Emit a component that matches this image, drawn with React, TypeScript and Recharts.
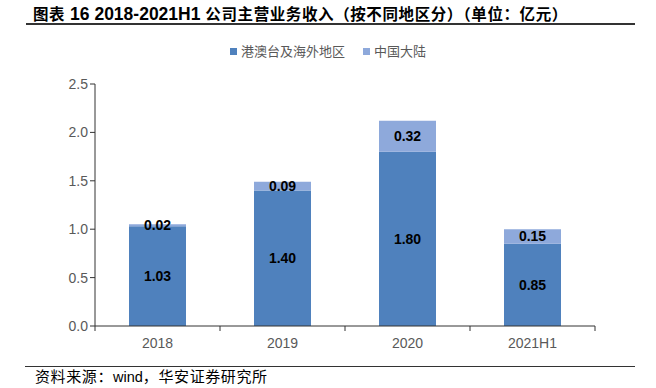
import { Bar, BarChart, LabelList, XAxis, YAxis } from "recharts";

const categories = ["2018", "2019", "2020", "2021H1"];
const overseas = [1.03, 1.4, 1.8, 0.85];
const mainland = [0.02, 0.09, 0.32, 0.15];
const yTicks = [0, 0.5, 1.0, 1.5, 2.0, 2.5];

const DARK = "#4F81BD";
const LIGHT = "#8EA9DB";
const GREY = "#595959";
const CJK = '"Noto Sans CJK SC", sans-serif';
const LATIN = '"Liberation Sans", Arial, sans-serif';

const data = categories.map((name, i) => ({
  name,
  overseas: overseas[i],
  mainland: mainland[i],
}));

function XTick(props: any) {
  const { x, y, payload, index } = props;
  const half = payload.offset || 62.5;
  const last = index === categories.length - 1;
  return (
    <g>
      <line x1={x - half} y1={y - 8} x2={x - half} y2={y - 3} stroke="#333" />
      {last && <line x1={x + half} y1={y - 8} x2={x + half} y2={y - 3} stroke="#333" />}
      <text x={x} y={y + 14} textAnchor="middle" fill={GREY} fontSize={14} fontFamily={LATIN}>
        {payload.value}
      </text>
    </g>
  );
}

const labelStyle = { fontSize: 14, fontWeight: "bold", fill: "#000", fontFamily: LATIN };

export default function App() {
  return (
    <div style={{ position: "absolute", left: 0, top: 0, width: 656, height: 388, background: "#fff" }}>
      <div
        style={{
          position: "absolute",
          left: 33,
          top: 3,
          fontSize: 15.5,
          fontWeight: "bold",
          fontFamily: CJK,
          color: "#000",
          whiteSpace: "nowrap",
          lineHeight: "20px",
          letterSpacing: 0.6,
        }}
      >
        图表<span style={{ fontFamily: LATIN, fontSize: 17.5, letterSpacing: 0 }}> 16 2018-2021H1 </span>
        公司主营业务收入（按不同地区分）（单位：亿元）
      </div>
      <div style={{ position: "absolute", left: 26, top: 23, width: 609, height: 1.5, background: "#333" }} />

      <div
        style={{
          position: "absolute",
          left: 0,
          width: 656,
          top: 42,
          display: "flex",
          justifyContent: "center",
          gap: 18,
          fontSize: 13,
          fontFamily: CJK,
          color: GREY,
          lineHeight: "18px",
        }}
      >
        <span style={{ display: "flex", alignItems: "center", gap: 4 }}>
          <span style={{ width: 7, height: 7, background: DARK }} />
          港澳台及海外地区
        </span>
        <span style={{ display: "flex", alignItems: "center", gap: 4 }}>
          <span style={{ width: 7, height: 7, background: LIGHT }} />
          中国大陆
        </span>
      </div>

      <div style={{ position: "absolute", left: 0, top: 0 }}>
        <BarChart
          width={656}
          height={388}
          data={data}
          margin={{ top: 84, right: 61, bottom: 32, left: 55 }}
        >
          <XAxis
            dataKey="name"
            tick={<XTick />}
            tickLine={false}
            axisLine={{ stroke: "#333" }}
            height={30}
            interval={0}
          />
          <YAxis
            domain={[0, 2.5]}
            ticks={yTicks}
            tickFormatter={(v) => Number(v).toFixed(1)}
            width={40}
            tick={{ fontSize: 14, fill: GREY, fontFamily: LATIN }}
            tickLine={{ stroke: "#333" }}
            tickSize={5}
            axisLine={{ stroke: "#333" }}
          />
          <Bar dataKey="overseas" stackId="a" fill={DARK} barSize={57} isAnimationActive={false}>
            <LabelList
              dataKey="overseas"
              position="center"
              formatter={(v: any) => Number(v).toFixed(2)}
              style={labelStyle}
            />
          </Bar>
          <Bar dataKey="mainland" stackId="a" fill={LIGHT} barSize={57} isAnimationActive={false}>
            <LabelList
              dataKey="mainland"
              position="center"
              formatter={(v: any) => Number(v).toFixed(2)}
              style={labelStyle}
            />
          </Bar>
        </BarChart>
      </div>

      <div style={{ position: "absolute", left: 25, top: 366, width: 610, height: 1, background: "#333" }} />
      <div
        style={{
          position: "absolute",
          left: 35,
          top: 367,
          fontSize: 15,
          fontFamily: CJK,
          color: "#000",
          whiteSpace: "nowrap",
          lineHeight: "18px",
          letterSpacing: 0.6,
        }}
      >
        资料来源：<span style={{ fontFamily: LATIN, fontSize: 14.5, letterSpacing: 0 }}>wind</span>，华安证券研究所
      </div>
    </div>
  );
}
